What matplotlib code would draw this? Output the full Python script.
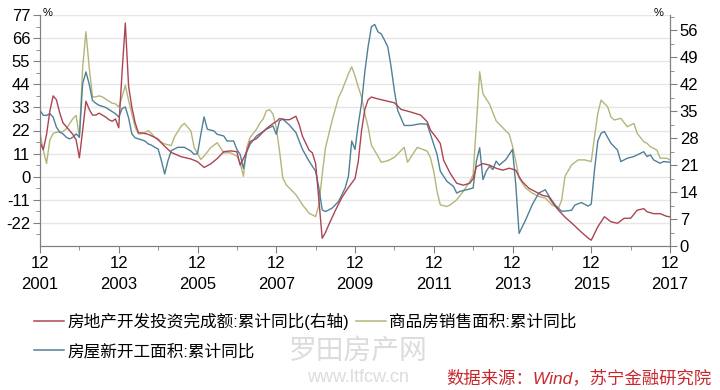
import matplotlib.pyplot as plt
from matplotlib.lines import Line2D

plt.rcParams['font.family'] = ['Liberation Sans', 'Noto Sans CJK SC', 'DejaVu Sans']

# x = months counted from 2001-12
inv_m = [0, 1, 2, 3, 4, 5, 6, 7, 8, 9, 10, 11, 12, 13, 14, 15, 16, 17, 18, 19, 20, 21, 22, 23,
         24, 25, 26, 27, 28, 29, 30, 31, 32, 33, 34, 35, 36, 38, 40, 43, 46, 48, 50, 52, 54, 56,
         58, 60, 61, 63, 64, 66, 69, 71, 72, 73, 75, 76, 78, 79, 80, 82, 83, 84, 85, 86, 87, 88,
         90, 92, 94, 96, 97, 98, 99, 100, 101, 103, 105, 108, 110, 113, 116, 118, 119, 121, 122,
         123, 125, 127, 129, 131, 132, 133, 135, 137, 139, 141, 143, 145, 146, 147, 149, 151, 153,
         155, 156, 158, 160, 162, 165, 167, 168, 170, 172, 174, 176, 178, 180, 182, 184, 185, 187,
         189, 191, 192]
inv_v = [27, 25, 29, 35, 39, 38, 34.6, 32, 31, 30, 29, 27.6, 22.9, 30, 37.6, 35.5, 34, 34, 34.5,
         34, 33.5, 32.8, 32.4, 33, 30.7, 45, 57.9, 41.5, 36, 32, 29.4, 29.4, 29.2, 29, 28.6, 28.2,
         27.6, 25.9, 24.3, 23.2, 22.6, 21.9, 20.4, 21.3, 22.7, 24.5, 24.7, 24.5, 21, 24.5, 27.1,
         27.9, 30.5, 31.8, 32.3, 33.1, 32.8, 32.8, 33.7, 31.5, 28.5, 24.9, 24.2, 21.4, 11.9, 2,
         3.5, 5.5, 9.2, 12.6, 15.2, 17.5, 22, 30, 35.5, 38, 38.7, 38.2, 37.8, 37.2, 35.5, 34.8, 34,
         32.3, 30.1, 27.9, 26.6, 22.3, 18.9, 16.3, 15.8, 16.3, 17.5, 20.6, 21.4, 21, 20.2, 19.7,
         20.2, 19.7, 18, 16.7, 15, 14.1, 13.2, 12.8, 11.5, 9.3, 7.5, 6, 3.6, 2.1, 1.5, 5, 7.6, 6.3,
         5.9, 7.2, 7.2, 9.3, 9.7, 8.9, 8.4, 8.4, 7.7, 7.6]

sales_m = [0, 1, 2, 3, 4, 5, 6, 7, 8, 9, 10, 11, 12, 13, 14, 15, 16, 17, 18, 19, 20, 21, 22, 23,
           24, 25, 26, 27, 28, 29, 30, 31, 32, 33, 34, 35, 36, 37, 38, 40, 41, 43, 44, 46, 47, 49,
           50, 52, 54, 56, 58, 60, 61, 62, 63, 64, 66, 67, 68, 69, 70, 71, 72, 73, 74, 75, 76, 78,
           80, 82, 84, 85, 86, 87, 89, 91, 92, 94, 95, 96, 97, 98, 99, 100, 101, 102, 104, 106,
           108, 111, 112, 115, 118, 119, 120, 121, 122, 124, 125, 127, 129, 131, 132, 133, 134,
           135, 137, 139, 141, 143, 144, 145, 146, 148, 150, 152, 154, 156, 158, 159, 160, 162,
           164, 166, 168, 169, 170, 171, 173, 174, 175, 177, 179, 181, 182, 184, 185, 186, 188,
           189, 191, 192]
sales_v = [21, 12.7, 6.3, 17.5, 20.6, 21.2, 21.2, 21.5, 22.8, 25.2, 27.6, 29.2, 18.8, 52, 69, 52,
           38, 38, 38.5, 38, 37, 36, 35, 34.7, 33.2, 38, 43.5, 36.3, 30, 23.6, 20.4, 20.4, 21, 22,
           20.5, 18.8, 18, 16.4, 15.6, 14.8, 19, 24, 25.4, 21.8, 13.8, 8.2, 9.8, 13.8, 16.2, 11.4,
           11.4, 9.8, 6.6, 0.2, 13.8, 18.6, 22.6, 25.5, 27.4, 31.4, 31.9, 29.8, 23.4, 12.2, -0.6,
           -3.8, -5.4, -8.6, -13.4, -17.4, -19, -13.4, 1, 13.8, 26.6, 37.8, 41, 49, 52.3, 48, 42.7,
           38, 30, 23.6, 15, 12.4, 6.9, 7.6, 9.2, 14, 6.9, 14, 12.2, 9, 2.6, -7, -13.4, -14.2,
           -13.4, -11, -7, -2.2, 1, 25, 50, 39.4, 34.6, 26.6, 23.4, 20.2, 14.6, 7.4, -0.6, -5.4,
           -7.8, -9.4, -10.2, -13.4, -15, -11.1, 0.2, 5.6, 8, 8, 7.2, 19.1, 30.2, 36.5, 33.3, 28.5,
           27, 27.8, 23.8, 25.4, 20.6, 16.7, 15.9, 14.3, 12.7, 8.8, 8.8, 8]

starts_m = [0, 1, 2, 3, 4, 5, 6, 7, 8, 9, 10, 11, 12, 13, 14, 15, 16, 17, 18, 19, 20, 21, 22, 23,
            24, 25, 26, 27, 28, 29, 30, 31, 32, 33, 34, 35, 36, 37, 38, 39, 40, 42, 44, 46, 47, 48,
            49, 50, 51, 53, 54, 56, 57, 59, 60, 61, 62, 63, 64, 66, 69, 71, 72, 73, 74, 76, 78, 80,
            82, 84, 85, 86, 87, 89, 91, 93, 94, 95, 96, 97, 98, 99, 100, 101, 102, 103, 104, 105,
            106, 107, 108, 109, 111, 113, 116, 118, 119, 121, 122, 124, 126, 127, 128, 130, 132,
            133, 134, 135, 136, 137, 138, 139, 140, 142, 143, 144, 145, 146, 148, 150, 152, 154,
            155, 157, 159, 162, 163, 165, 167, 168, 169, 170, 171, 172, 174, 176, 177, 179, 181,
            184, 185, 186, 187, 189, 190, 192]
starts_v = [31.6, 29.2, 29.2, 30, 28.4, 23.6, 21.2, 20.4, 18.8, 18, 18.8, 20.4, 18.8, 44.3, 49.9,
            44, 36.3, 35, 34, 33.5, 33, 32, 31, 30, 28.4, 32.4, 33.2, 28, 20.4, 18.5, 18, 17.5, 17,
            15.6, 15, 14, 13.2, 7.6, 1.3, 7.6, 12.4, 14, 14, 12.2, 10.6, 11, 20, 28.5, 22.6, 21.8,
            20.2, 19.4, 17, 17, 13, 10.6, 3.9, 12, 15.4, 19.4, 22.6, 24.2, 20.2, 26.6, 27.4, 24.6,
            21, 13, 7.4, 2.6, -5.4, -15.8, -16.6, -15, -11.8, -5.4, 0.2, 17, 13, 25, 35, 50, 62,
            71.4, 72.5, 69, 68, 65, 61.8, 52.3, 41, 31.6, 24.4, 24.4, 25.2, 25, 20.2, 10.6, 2.6,
            -2.2, -4.6, -7.8, -7, -6.2, -5.4, 7.4, 13.8, -1.4, 2.6, 5, 3.4, 7.4, 5.5, 8.2, 10.6, 13,
            -3.8, -27, -20.6, -13.4, -7.8, -6.2, -9, -13.5, -16.5, -16, -13.5, -12.3, -14, -13, 3.3,
            17, 20.7, 21.5, 15.9, 12.7, 7.2, 8.8, 9.6, 11.9, 9.6, 10.4, 8, 6.4, 7.2, 6.9]

names = ['房地产开发投资完成额:累计同比(右轴)', '商品房销售面积:累计同比', '房屋新开工面积:累计同比']
colors = ['#ab4553', '#b5b57a', '#4f8098']
years = ['2001', '2003', '2005', '2007', '2009', '2011', '2013', '2015', '2017']
left_ticks = [-22, -11, 0, 11, 22, 33, 44, 55, 66, 77]
right_ticks = [0, 7, 14, 21, 28, 35, 42, 49, 56]

fig = plt.figure(figsize=(7.2, 3.9), dpi=100)
ax = fig.add_axes([40 / 720, 1 - 246 / 390, 630 / 720, 231 / 390])
ax2 = ax.twinx()

ax.plot(sales_m, sales_v, color=colors[1], lw=1.0)
ax.plot(starts_m, starts_v, color=colors[2], lw=1.0)
ax2.plot(inv_m, inv_v, color=colors[0], lw=1.0)

ax.set_xlim(0, 192)
ax.set_ylim(-33, 77)
ax2.set_ylim(0, 60)

grey = '#808080'
ax.set_yticks(left_ticks)
ax.set_yticklabels([str(t) for t in left_ticks])
ax.set_yticks([t + 5.5 for t in range(-33, 77, 11)], minor=True)
ax.yaxis.grid(True, color='#e6e6e6', lw=1)
ax.set_axisbelow(True)
ax2.set_yticks(right_ticks)
ax2.set_yticklabels([str(t) for t in right_ticks])
ax2.set_yticks([t + 3.5 for t in range(0, 57, 7)], minor=True)

ax.set_xticks(range(0, 193, 24))
ax.set_xticklabels(['12\n' + y for y in years], linespacing=1.55)
ax.set_xticks(range(12, 193, 24), minor=True)

for a in (ax, ax2):
    a.tick_params(which='both', direction='out', color=grey, labelsize=12, pad=2)
    a.tick_params(which='major', length=5)
    a.tick_params(which='minor', length=3)
    for s in a.spines.values():
        s.set_color(grey)
    a.spines['top'].set_visible(False)

fig.text(43 / 720, 1 - 13 / 390, '%', fontsize=8, ha='left', va='center')
fig.text(664 / 720, 1 - 13 / 390, '%', fontsize=8, ha='right', va='center')

handles = [Line2D([], [], color=c, lw=1.1) for c in colors]
fig.legend([handles[0], handles[2], handles[1]], [names[0], names[2], names[1]],
           ncol=2, loc='upper left', bbox_to_anchor=(34 / 720, 1 - 313 / 390),
           frameon=False, fontsize=12, handlelength=1.8, handletextpad=0.2,
           columnspacing=0.4, labelspacing=0.8, borderpad=0, borderaxespad=0)

fig.text(358 / 720, 1 - 352 / 390, '罗田房产网', fontsize=20, color='#dcdcdc',
         ha='center', va='center')
fig.text(358 / 720, 1 - 378 / 390, 'www.ltfcw.cn', fontsize=13, color='#dcdcdc',
         ha='center', va='center')
fig.text(712 / 720, 1 - 378 / 390, '数据来源：Wind，苏宁金融研究院', fontsize=12.5,
         color='#c8282d', ha='right', va='center', style='italic')

fig.savefig('out.png', dpi=100)
